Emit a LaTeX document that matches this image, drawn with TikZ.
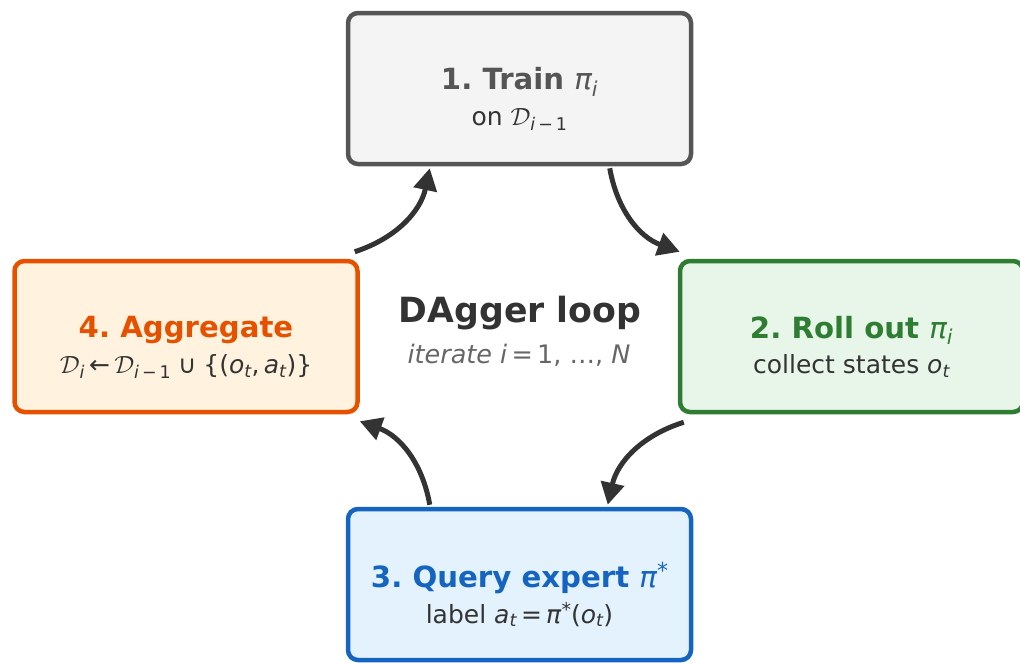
\documentclass[tikz,border=0pt]{standalone}
\usepackage{fontspec}
\setmainfont{DejaVu Sans}
\usetikzlibrary{arrows.meta}

\definecolor{ink}{HTML}{333333}
\definecolor{muted}{HTML}{666666}
\definecolor{trainline}{HTML}{555555}
\definecolor{trainfill}{HTML}{F4F4F4}
\definecolor{rollline}{HTML}{2E7D32}
\definecolor{rollfill}{HTML}{E8F5E9}
\definecolor{queryline}{HTML}{1565C0}
\definecolor{queryfill}{HTML}{E3F2FD}
\definecolor{aggline}{HTML}{E65100}
\definecolor{aggfill}{HTML}{FFF3E0}

% dataset symbol and small sub/superscripts in the text font
\newcommand{\DS}{\ensuremath{\mathcal{D}}}
\newcommand{\sbi}[1]{\textsubscript{#1}}
\newcommand{\starsup}[2]{\raisebox{#2}{\mdseries\upshape\fontsize{#1}{#1}\selectfont *}}

\begin{document}
\frenchspacing
\begin{tikzpicture}[x=1pt,y=-1pt,
  stage/.style={draw, line width=4.5pt, rounded corners=10pt,
    minimum width=343pt, minimum height=151pt, inner sep=0pt},
  head/.style={anchor=base, inner sep=0pt, font=\fontsize{29.2}{33}\selectfont\bfseries},
  detail/.style={anchor=base, inner sep=0pt, text=ink, font=\fontsize{25}{28}\selectfont},
  flow/.style={draw=ink, line width=5pt, -{Triangle[length=22pt,width=23pt]}}
]
\useasboundingbox (0,0) rectangle (1020,662);

% the four stages of the loop
\node[stage, draw=trainline, fill=trainfill] (b1) at (519.5,88.5) {};
\node[stage, draw=rollline, fill=rollfill] (b2) at (851.5,336.5) {};
\node[stage, draw=queryline, fill=queryfill] (b3) at (519.5,584.5) {};
\node[stage, draw=aggline, fill=aggfill] (b4) at (186,336.5) {};

\node[head, text=trainline, yshift=-1pt] (t1) at (b1.center)
  {1. Train {\mdseries\itshape π}\sbi{\mdseries\itshape i}};
\node[detail, yshift=-37pt] (s1) at (b1.center)
  {on \DS\sbi{{\itshape i}\,−\,1}};

\node[head, text=rollline, yshift=-1.5pt] (t2) at (b2.center)
  {2. Roll out {\mdseries\itshape π}\sbi{\mdseries\itshape i}};
\node[detail, yshift=-37pt] (s2) at (b2.center)
  {collect states \textit{o}\sbi{\itshape t}};

\node[head, text=queryline, yshift=-2.5pt] (t3) at (b3.center)
  {3. Query expert {\mdseries\itshape π}\starsup{22}{9pt}};
\node[detail, yshift=-38.5pt] (s3) at (b3.center)
  {label \textit{a}\sbi{\itshape t}\,=\,\textit{π}\starsup{19}{7pt}(\textit{o}\sbi{\itshape t})};

\node[head, text=aggline, yshift=-1pt] (t4) at (b4.center)
  {4. Aggregate};
\node[detail, yshift=-37pt] (s4) at (b4.center)
  {\DS\sbi{\itshape i}\,←\,\DS\sbi{{\itshape i}\,−\,1}\;∪\;\{(\textit{o}\sbi{\itshape t},\,\textit{a}\sbi{\itshape t})\}};

% loop caption in the middle
\node[anchor=base, inner sep=0pt, text=ink, font=\fontsize{34.7}{38}\selectfont\bfseries]
  (cap) at (520,322) {DAgger loop};
\node[anchor=base, inner sep=0pt, text=muted, font=\fontsize{25.5}{28}\selectfont]
  (sub) at (519,363) {\textit{iterate i}\,=\,1, …, \textit{N}};

% clockwise arrows between the stages
\draw[flow] ([shift={(-5,-7)}]b4.north east) to[bend right=30] ([shift={(84,2)}]b1.south west);
\draw[flow] ([shift={(264,2)}]b1.south west) to[bend right=30] ([shift={(2,-7)}]b2.north west);
\draw[flow] ([shift={(6,8)}]b2.south west) to[bend right=30] ([shift={(262,-2)}]b3.north west);
\draw[flow] ([shift={(84,-2)}]b3.north west) to[bend right=30] ([shift={(0,7)}]b4.south east);
\end{tikzpicture}
\end{document}
